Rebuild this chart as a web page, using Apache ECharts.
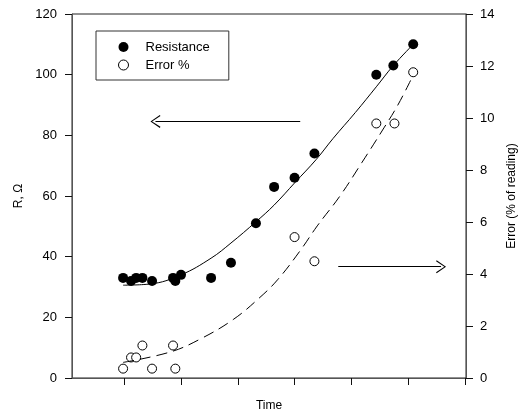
<!DOCTYPE html>
<html>
<head>
<meta charset="utf-8">
<script src="https://cdn.jsdelivr.net/npm/echarts@6/dist/echarts.min.js"></script>
<style>
    html, body { margin: 0; padding: 0; background: #fff; }
    #chart { width: 529px; height: 417px; }
</style>
</head>
<body>
<div id="chart"></div>
<script>
// time in tick units (ticks at 1..7, no labels)
const timeTicks = [1, 2, 3, 4, 5, 6, 7]

// measured points
const resTime = [0.98, 1.12, 1.21, 1.32, 1.49, 1.86, 1.90, 2.00, 2.53, 2.88, 3.32, 3.64, 4.00, 4.35, 5.44, 5.74, 6.09]
const resValue = [33, 32, 33, 33, 32, 33, 32, 34, 33, 38, 51, 63, 66, 74, 100, 103, 110]
const errTime = [0.98, 1.12, 1.21, 1.32, 1.49, 1.86, 1.90, 4.00, 4.35, 5.44, 5.76, 6.09]
const errValue = [0.36, 0.79, 0.79, 1.25, 0.36, 1.25, 0.36, 5.42, 4.49, 9.79, 9.79, 11.76]

// fitted curves
const resFitTime = [0.98, 1.46, 2.0, 2.53, 2.88, 3.32, 3.64, 4.01, 4.38, 4.68, 5.07, 5.44, 5.74, 6.09]
const resFitValue = [30.6, 31, 34, 39.5, 44.5, 51.5, 57, 64.5, 72, 79, 87.5, 96, 103, 110]
const errFitTime = [0.98, 1.81, 2.34, 2.92, 3.39, 3.71, 4.1, 4.40, 4.80, 5.19, 5.54, 5.82, 6.09]
const errFitValue = [0.6, 1.0, 1.5, 2.25, 3.1, 3.8, 4.9, 5.85, 7.0, 8.3, 9.5, 10.5, 11.65]

// arrows [fromTime, toTime, R]
const arrowLeft = [4.10, 1.55, 84.6]
const arrowRight = [4.77, 6.58, 36.7]

const zip = (xs, ys) => xs.map((x, i) => [x, ys[i]])
const arrowHead = 'path://M10,0 L20,18 L18.4,19.2 L10,3.2 L1.6,19.2 L0,18 Z'
const font = 'Liberation Sans, Arial, sans-serif'

const chart = echarts.init(document.getElementById('chart'))

const option = {
    animation: false,
    textStyle: { fontFamily: font, color: '#000' },
    grid: {
        left: 72, right: 63, top: 14, bottom: 37,
        show: true, borderColor: '#222', borderWidth: 1
    },
    legend: {
        data: ['Resistance', 'Error %'],
        orient: 'vertical',
        left: 96, top: 31,
        padding: [9, 19, 8, 22],
        itemWidth: 10, itemHeight: 10, itemGap: 4,
        itemStyle: { borderWidth: 1 },
        borderColor: '#333', borderWidth: 1,
        textStyle: { fontFamily: font, fontSize: 13, color: '#000', padding: [0, 0, 0, 12], lineHeight: 14 }
    },
    xAxis: {
        type: 'value',
        min: 0.08, max: 7.02,
        name: 'Time', nameLocation: 'middle', nameGap: 22,
        nameTextStyle: { fontFamily: font, fontSize: 12, color: '#000' },
        axisLine: { lineStyle: { color: '#555' } },
        axisTick: { inside: false, length: 7, customValues: timeTicks, lineStyle: { color: '#111' } },
        axisLabel: { show: false },
        splitLine: { show: false }
    },
    yAxis: [
        {
            type: 'value', min: 0, max: 120, interval: 20, position: 'left',
            name: 'R, Ω', nameLocation: 'middle', nameGap: 44, nameRotate: 90,
            nameTextStyle: { fontFamily: font, fontSize: 12, color: '#000' },
            axisLine: { show: true, lineStyle: { color: '#555' } },
            axisTick: { show: true, length: 7, lineStyle: { color: '#111' } },
            axisLabel: { margin: 15, fontSize: 13, color: '#000', fontFamily: font },
            splitLine: { show: false }
        },
        {
            type: 'value', min: 0, max: 14, interval: 2, position: 'right',
            name: 'Error (% of reading)', nameLocation: 'middle', nameGap: 38, nameRotate: 90,
            nameTextStyle: { fontFamily: font, fontSize: 12, color: '#000' },
            axisLine: { show: true, lineStyle: { color: '#555' } },
            axisTick: { show: true, length: 7, lineStyle: { color: '#111' } },
            axisLabel: { margin: 14, fontSize: 13, color: '#000', fontFamily: font },
            splitLine: { show: false }
        }
    ],
    series: [
        {
            name: 'R fit', type: 'line', yAxisIndex: 0,
            data: zip(resFitTime, resFitValue),
            smooth: 0.4, showSymbol: false, silent: true,
            lineStyle: { color: '#000', width: 1 },
            markLine: {
                silent: true,
                symbol: ['none', arrowHead],
                symbolSize: [13, 10],
                label: { show: false },
                lineStyle: { color: '#000', width: 1, type: 'solid' },
                data: [
                    [{ coord: [arrowLeft[0], arrowLeft[2]] }, { coord: [arrowLeft[1], arrowLeft[2]] }],
                    [{ coord: [arrowRight[0], arrowRight[2]] }, { coord: [arrowRight[1], arrowRight[2]] }]
                ]
            }
        },
        {
            name: 'Error fit', type: 'line', yAxisIndex: 1,
            data: zip(errFitTime, errFitValue),
            smooth: 0.4, showSymbol: false, silent: true,
            lineStyle: { color: '#000', width: 1, type: [11, 6] }
        },
        {
            name: 'Resistance', type: 'scatter', yAxisIndex: 0,
            data: zip(resTime, resValue),
            symbol: 'circle', symbolSize: 10,
            itemStyle: { color: '#000', opacity: 1 }
        },
        {
            name: 'Error %', type: 'scatter', yAxisIndex: 1,
            data: zip(errTime, errValue),
            symbol: 'circle', symbolSize: 9,
            itemStyle: { color: '#fff', borderColor: '#000', borderWidth: 1, opacity: 1 }
        }
    ]
}

chart.setOption(option)
</script>
</body>
</html>
